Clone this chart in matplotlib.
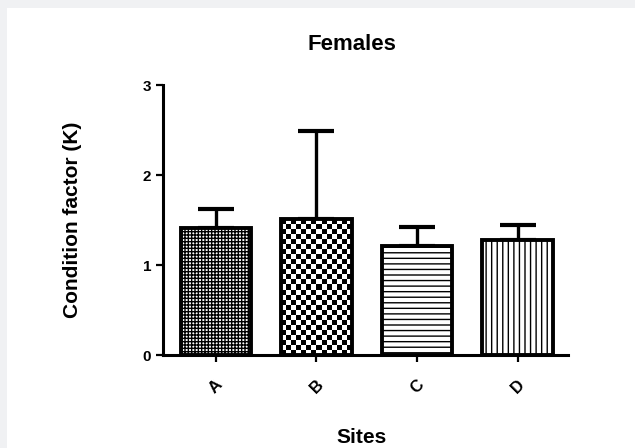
import numpy as np
import matplotlib.pyplot as plt
from matplotlib.patches import Rectangle

# Condition factor (K) of females at each sampling site, mean with upper SD bar
sites = ['A', 'B', 'C', 'D']
k_mean = [1.41, 1.51, 1.21, 1.28]
k_sd = [0.21, 0.98, 0.21, 0.16]

plt.rcParams['font.family'] = ['Liberation Sans', 'DejaVu Sans']

fig = plt.figure(figsize=(6.35, 4.48), dpi=100, facecolor='#f0f1f3')
# white panel inside the grey frame
fig.patches.append(Rectangle((7 / 635, 0), 1, 1 - 8 / 448, transform=fig.transFigure,
                             facecolor='white', edgecolor='none', zorder=-10))
ax = fig.add_axes([163 / 635, 93 / 448, 405 / 635, 270 / 448])
ax.set_facecolor('none')
ax.set_xlim(-0.525, 3.5)
ax.set_ylim(0, 3)

hatches = ['+++++', None, '---', '|||']
x = np.arange(len(sites))
bars = ax.bar(x, k_mean, width=0.7, color='white', edgecolor='black', linewidth=2.8, zorder=3)
for b, h in zip(bars, hatches):
    if h:
        b.set_hatch(h)

# site B gets a checkerboard fill, clipped to its bar
b = bars[1]
x0, y0 = b.get_x(), b.get_y()
x1, y1 = x0 + b.get_width(), y0 + b.get_height()
(px0, py0), (px1, py1) = ax.transData.transform([(x0, y0), (x1, y1)])
sq = 5.0
nx, ny = int(round((px1 - px0) / sq)), int(round((py1 - py0) / sq))
checker = (np.indices((ny, nx)).sum(axis=0) % 2).astype(float)
im = ax.imshow(checker, cmap='gray', extent=(x0, x1, y0, y1), aspect='auto',
               interpolation='nearest', origin='lower', zorder=2.5)
im.set_clip_path(b)
b.set_facecolor('none')

ax.errorbar(x, k_mean, yerr=[[0] * len(sites), k_sd], fmt='none', ecolor='black',
            elinewidth=2.4, capsize=13, capthick=3, zorder=1)

ax.set_xlim(-0.525, 3.5)
ax.set_ylim(0, 3)
ax.set_yticks([0, 1, 2, 3])
ax.set_xticks(x)
ax.set_xticklabels(sites, rotation=45, fontsize=12, fontweight='bold')
for lab in ax.get_yticklabels():
    lab.set_fontweight('bold')
    lab.set_fontsize(11)

for side in ['top', 'right']:
    ax.spines[side].set_visible(False)
for side in ['left', 'bottom']:
    ax.spines[side].set_linewidth(2.2)
ax.tick_params(axis='both', width=1.6, length=5)
ax.tick_params(axis='x', pad=11)

fig.text(352 / 635, 1 - 45 / 448, 'Females', fontsize=16, fontweight='bold',
         ha='center', va='center')
ax.set_xlabel('Sites', fontsize=15, fontweight='bold')
ax.xaxis.set_label_coords(0.491, -0.27)
ax.set_ylabel('Condition factor (K)', fontsize=15, fontweight='bold')
ax.yaxis.set_label_coords(-0.2, 0.5)

fig.savefig('out.png', dpi=100, facecolor=fig.get_facecolor())
